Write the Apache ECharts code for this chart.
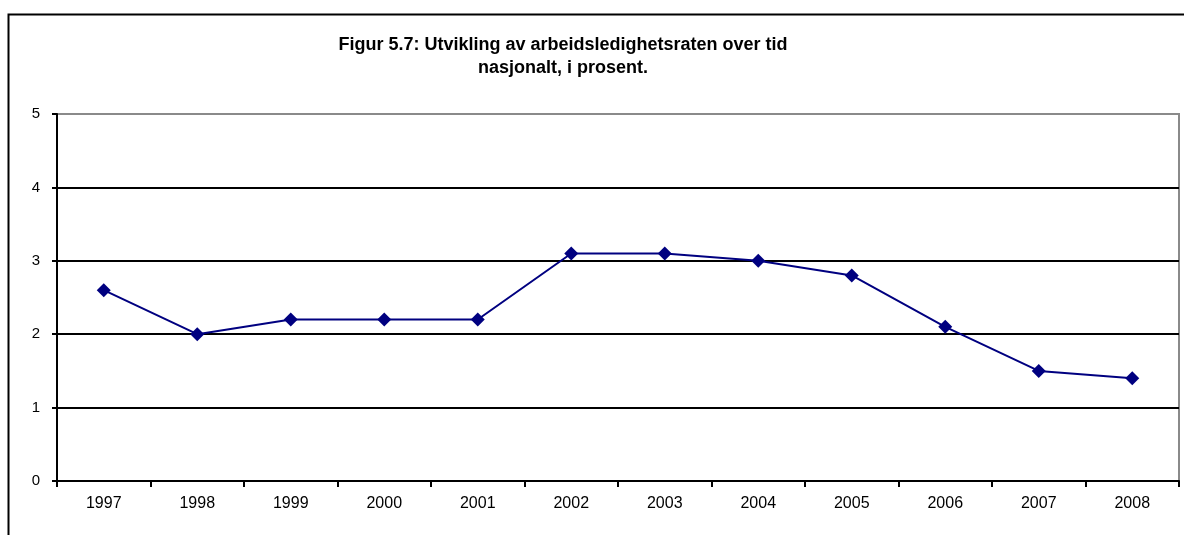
<!DOCTYPE html>
<html>
<head>
<meta charset="utf-8">
<script src="https://cdn.jsdelivr.net/npm/echarts@6/dist/echarts.min.js"></script>
<style>
  html, body { margin: 0; padding: 0; background: #fff; }
  #chart { width: 1184px; height: 535px; }
</style>
</head>
<body>
<div id="chart"></div>
<script>
// Arbeidsledighetsrate nasjonalt, i prosent
const years = ['1997', '1998', '1999', '2000', '2001', '2002', '2003', '2004', '2005', '2006', '2007', '2008'];
const rate = [2.6, 2.0, 2.2, 2.2, 2.2, 3.1, 3.1, 3.0, 2.8, 2.1, 1.5, 1.4];
const yTicks = [0, 1, 2, 3, 4, 5];

const chart = echarts.init(document.getElementById('chart'), null, { renderer: 'canvas' });

chart.setOption({
  animation: false,
  backgroundColor: '#ffffff',
  textStyle: { fontFamily: 'Liberation Sans, Arial, sans-serif' },
  title: {
    text: 'Figur 5.7: Utvikling av arbeidsledighetsraten over tid\nnasjonalt, i prosent.',
    left: 558,
    top: 29,
    textAlign: 'center',
    textStyle: {
      fontFamily: 'Liberation Sans, Arial, sans-serif',
      fontSize: 18,
      fontWeight: 'bold',
      color: '#000',
      lineHeight: 23
    }
  },
  graphic: [{
    type: 'rect',
    shape: { x: 8.5, y: 14.5, width: 1300, height: 700 },
    style: { fill: 'none', stroke: '#000', lineWidth: 2 },
    silent: true
  }],
  grid: {
    left: 57,
    right: 5,
    top: 114,
    bottom: 54,
    show: true,
    borderColor: '#8a8a8a',
    borderWidth: 2,
    backgroundColor: '#ffffff'
  },
  xAxis: {
    type: 'category',
    data: years,
    boundaryGap: true,
    axisLine: { lineStyle: { color: '#000', width: 2 } },
    axisTick: { show: true, length: 6, alignWithLabel: false, lineStyle: { color: '#000', width: 2 } },
    axisLabel: { color: '#000', fontSize: 16, margin: 15 },
    splitLine: { show: false }
  },
  yAxis: {
    type: 'value',
    min: yTicks[0],
    max: yTicks[yTicks.length - 1],
    interval: 1,
    axisLine: { show: true, lineStyle: { color: '#000', width: 2 } },
    axisTick: { show: true, length: 5, lineStyle: { color: '#000', width: 2 } },
    axisLabel: { color: '#000', fontSize: 15, margin: 17 },
    splitLine: { show: true, showMinLine: false, showMaxLine: false, lineStyle: { color: '#000', width: 2 } }
  },
  series: [{
    type: 'line',
    data: rate,
    symbol: 'diamond',
    symbolSize: 14,
    lineStyle: { color: '#000080', width: 2 },
    itemStyle: { color: '#000080' },
    z: 5
  }]
});
</script>
</body>
</html>
